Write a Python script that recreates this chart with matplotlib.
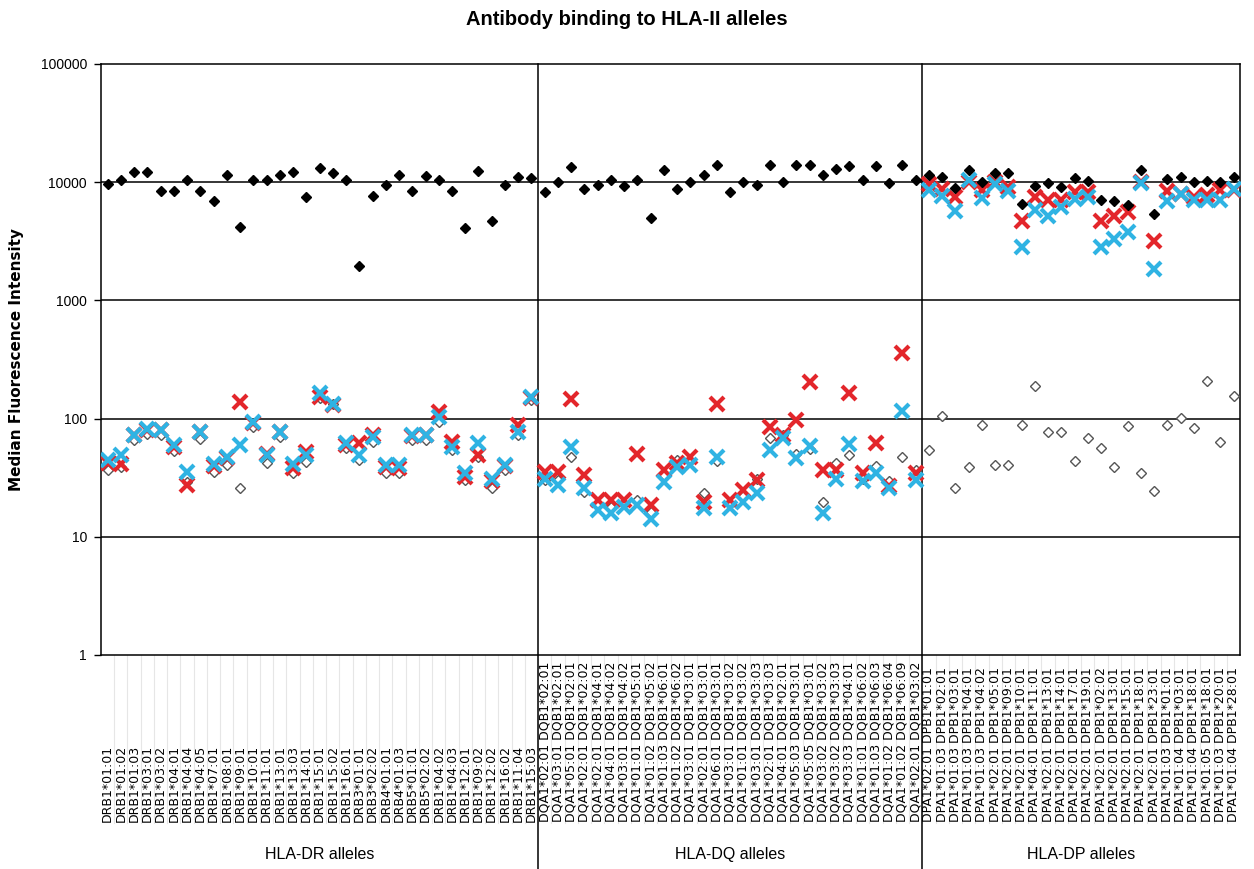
import numpy as np
import matplotlib.pyplot as plt
from matplotlib.transforms import blended_transform_factory

plt.rcParams['font.family'] = ['Liberation Sans', 'DejaVu Sans']

dr_labels = ["DRB1*01:01", "DRB1*01:02", "DRB1*01:03", "DRB1*03:01", "DRB1*03:02",
             "DRB1*04:01", "DRB1*04:04", "DRB1*04:05", "DRB1*07:01", "DRB1*08:01",
             "DRB1*09:01", "DRB1*10:01", "DRB1*11:01", "DRB1*13:01", "DRB1*13:03",
             "DRB1*14:01", "DRB1*15:01", "DRB1*15:02", "DRB1*16:01", "DRB3*01:01",
             "DRB3*02:02", "DRB4*01:01", "DRB4*01:03", "DRB5*01:01", "DRB5*02:02",
             "DRB1*04:02", "DRB1*04:03", "DRB1*12:01", "DRB1*09:02", "DRB1*12:02",
             "DRB1*16:02", "DRB1*11:04", "DRB1*15:03"]
dq_alpha = ["02:01", "03:01", "05:01", "02:01", "02:01", "04:01", "03:01", "01:01",
            "01:02", "01:03", "01:02", "03:01", "02:01", "06:01", "03:01", "01:01",
            "03:01", "02:01", "04:01", "05:03", "05:05", "03:02", "03:02", "03:03",
            "01:01", "01:03", "01:02", "01:02", "02:01"]
dq_beta = ["02:01", "02:01", "02:01", "02:02", "04:01", "04:02", "04:02", "05:01",
           "05:02", "06:01", "06:02", "03:01", "03:01", "03:01", "03:02", "03:02",
           "03:03", "03:03", "02:01", "03:01", "03:01", "03:02", "03:03", "04:01",
           "06:02", "06:03", "06:04", "06:09", "03:02"]
dp_alpha = ["02:01", "01:03", "01:03", "01:03", "01:03", "02:01", "02:01", "02:01",
            "04:01", "02:01", "02:01", "02:01", "02:01", "02:01", "02:01", "02:01",
            "02:01", "02:01", "01:03", "01:04", "01:04", "01:05", "01:03", "01:04"]
dp_beta = ["01:01", "02:01", "03:01", "04:01", "04:02", "05:01", "09:01", "10:01",
           "11:01", "13:01", "14:01", "17:01", "19:01", "02:02", "13:01", "15:01",
           "18:01", "23:01", "01:01", "03:01", "18:01", "18:01", "20:01", "28:01"]
dq_labels = [f"DQA1*{a} DQB1*{b}" for a, b in zip(dq_alpha, dq_beta)]
dp_labels = [f"DPA1*{a} DPB1*{b}" for a, b in zip(dp_alpha, dp_beta)]

group_names = ["HLA-DR alleles", "HLA-DQ alleles", "HLA-DP alleles"]

# black filled diamonds
dr_pos = [9660, 10500, 12100, 12100, 8360, 8360, 10500, 8360, 6980, 11560, 4150,
          10500, 10500, 11560, 12100, 7540, 13180, 11860, 10500, 1945, 7690, 9400,
          11560, 8360, 11350, 10500, 8360, 4050, 12330, 4700, 9400, 10990, 10800]
dq_pos = [8310, 10100, 13520, 8760, 9530, 10430, 9330, 10430, 4950, 12680, 8760,
          9960, 11560, 14060, 8200, 9960, 9530, 14060, 9960, 14060, 14060, 11560,
          12920, 13780, 10430, 13780, 9770, 14060, 10430]
dp_pos = [11570, 10990, 8930, 12760, 10000, 11860, 11860, 6550, 9330, 9770, 9160,
          10830, 10300, 7080, 6980, 6460, 12680, 5320, 10640, 10990, 10000, 10160,
          10000, 10990]

# open diamonds
dr_neg = [36.6, 39, 65.6, 74.7, 72, 53, 29, 66.5, 35.4, 40.3, 25.6, 85, 41.7, 70,
          34.3, 43, 148, 134, 55.8, 45, 63.5, 34.7, 34.3, 65.6, 65.6, 93.6, 54, 30,
          47.4, 25.6, 36.6, 72, 144]
dq_neg = [30, 30, 47.4, 24, 19, 18, 19, 20.4, 16.3, 33, 44.5, 44, 23.3, 44, 19, 22,
          31, 69, 72, 50.6, 55, 19.8, 42.2, 49, 31, 39.5, 29.7, 46.9, 36.6]
dp_neg = [54.7, 105, 25.6, 38.6, 87.8, 40.3, 40.3, 87.8, 188, 76.2, 76.2, 43.6, 69,
          55.8, 38.6, 86, 34.3, 24.3, 87.8, 102, 83.4, 208, 62.7, 154]

# red crosses
dr_red = [41.7, 40.9, 73, 80, 80, 57, 27.3, 77, 40, 46, 138, 92, 50, 77, 37.8, 52,
          152, 130, 60, 61.5, 73, 39, 37.8, 71, 72, 113.7, 63.5, 32, 49, 29.5, 39.5,
          87.8, 148]
dq_red = [35.4, 35.4, 145, 33.2, 20.4, 20.4, 20.4, 50.6, 18.5, 36.6, 41.7, 46.9,
          19.8, 134, 20.4, 24.8, 30.1, 85, 72, 98, 204, 37, 36.6, 163, 34.3, 62.2,
          27, 358, 34.7]
dp_red = [9660, 8760, 7450, 10000, 8600, 10000, 9040, 4730, 7450, 7080, 7080, 8200,
          8200, 4730, 5210, 5560, 10000, 3160, 8360, 7890, 7450, 7840, 8600, 8600]

# blue crosses
dr_blue = [44.5, 49, 72, 82, 80.7, 59.5, 35.4, 77, 40.9, 47.4, 59.5, 93.6, 49, 77,
           40.9, 49, 163, 134, 61.5, 49, 70, 40.3, 40.3, 72, 72, 103, 57.5, 34.3,
           61.5, 31, 40.3, 77, 152]
dq_blue = [31, 27.3, 57.5, 25.6, 16.8, 16, 17.7, 18.5, 14, 29.1, 39, 40.3, 17.4,
           47.4, 17.4, 19.8, 23.3, 54, 67.8, 46, 58.3, 16, 31, 60.7, 29.7, 34.7,
           25.6, 116, 30.1]
dp_blue = [8600, 7690, 5740, 10430, 7360, 9660, 8480, 2810, 5820, 5210, 6120, 7210,
           7450, 2810, 3310, 3770, 9880, 1850, 6980, 7950, 7080, 7080, 7080, 8760]

labels = dr_labels + dq_labels + dp_labels
pos_ctrl = dr_pos + dq_pos + dp_pos
neg_ctrl = dr_neg + dq_neg + dp_neg
ab_red = dr_red + dq_red + dp_red
ab_blue = dr_blue + dq_blue + dp_blue
group_sizes = [len(dr_labels), len(dq_labels), len(dp_labels)]

x = np.arange(len(labels))

fig = plt.figure(figsize=(12.54, 8.69), dpi=100)
ax = fig.add_axes([0.0805, 0.2463, 0.9085, 0.6802])

ax.plot(x, neg_ctrl, linestyle='none', marker='D', markersize=4.8,
        markerfacecolor='white', markeredgecolor='#555555', markeredgewidth=1.0, zorder=3)
ax.plot(x, ab_red, linestyle='none', marker='x', markersize=9.5,
        color='#e3262b', markeredgewidth=3.0, zorder=4)
ax.plot(x, ab_blue, linestyle='none', marker='x', markersize=9.5,
        color='#2fb3e3', markeredgewidth=3.0, zorder=5)
ax.plot(x, pos_ctrl, linestyle='none', marker='D', markersize=5.5,
        color='black', zorder=6)

ax.set_yscale('log')
ax.set_ylim(1, 100000)
ax.set_xlim(-0.5, len(labels) - 0.5)
ax.set_yticks([1, 10, 100, 1000, 10000, 100000])
ax.set_yticklabels(["1", "10", "100", "1000", "10000", "100000"], fontsize=10)
ax.minorticks_off()
ax.yaxis.set_tick_params(direction='out', length=5, width=1, pad=5)
ax.set_xticks([])
for yv in [10, 100, 1000, 10000]:
    ax.axhline(yv, color='black', linewidth=1.1, zorder=1)
for s in ax.spines.values():
    s.set_linewidth(1.1)

ax.set_ylabel("Median Fluorescence Intensity", fontsize=11, fontweight='bold',
              family='DejaVu Sans', labelpad=12)
fig.suptitle("Antibody binding to HLA-II alleles", fontsize=14.5, fontweight='bold', y=0.988)

trans = blended_transform_factory(ax.transData, ax.transAxes)

# faint column lines under the axis
for b in np.arange(len(labels) - 1) + 0.5:
    ax.plot([b, b], [0, -0.285], transform=trans, color='#e6e6e6',
            linewidth=0.8, clip_on=False, zorder=0)

for i, lab in enumerate(labels):
    ax.text(i, -0.283, lab, transform=trans, rotation=90, ha='center', va='bottom',
            fontsize=9, family='DejaVu Sans')

# group separators and names
start = 0
for k, n in enumerate(group_sizes):
    ax.text(start + (n - 1) / 2, -0.338, group_names[k], transform=trans,
            ha='center', va='center', fontsize=11.5)
    if k > 0:
        ax.plot([start - 0.5, start - 0.5], [1, -0.365], transform=trans,
                color='black', linewidth=1.1, clip_on=False, zorder=2)
    start += n

fig.savefig("out.png", dpi=100)
